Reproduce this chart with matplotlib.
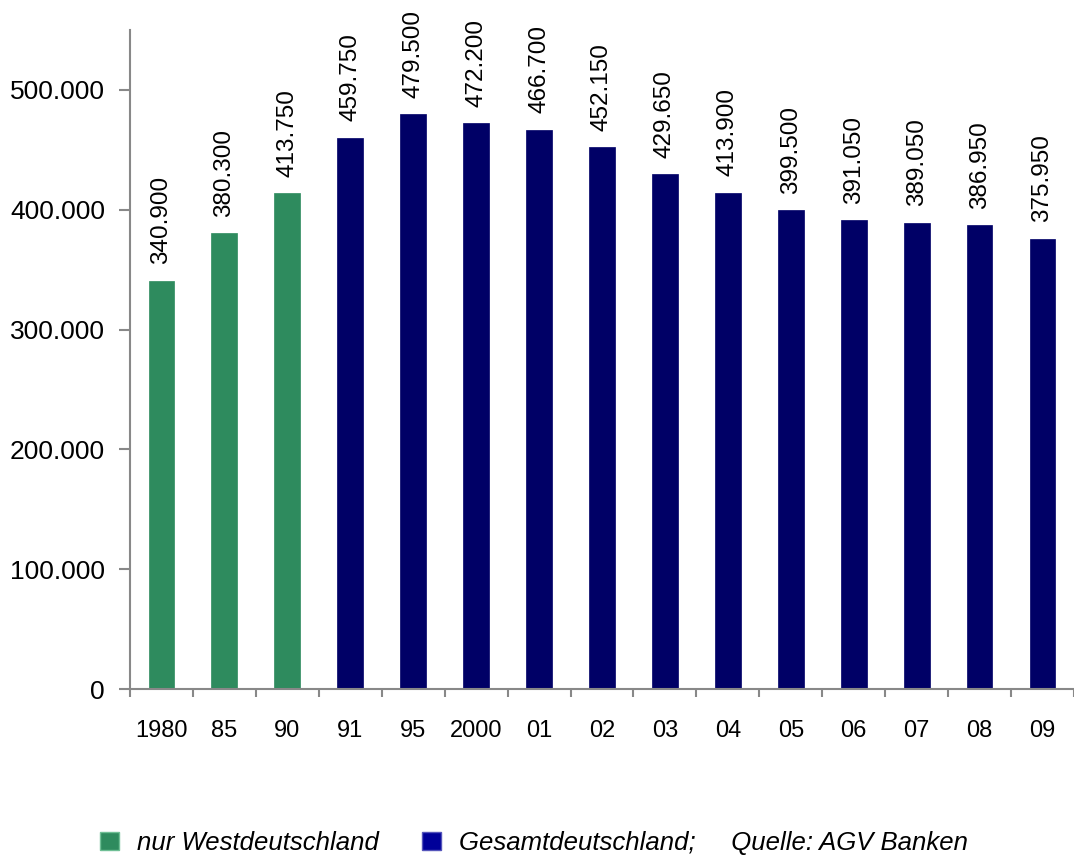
import numpy as np
import matplotlib.pyplot as plt
from matplotlib.patches import Patch

plt.rcParams['font.family'] = ['Liberation Sans', 'DejaVu Sans']

years = ['1980', '85', '90', '91', '95', '2000', '01', '02', '03', '04', '05', '06', '07', '08', '09']
values = [340900, 380300, 413750, 459750, 479500, 472200, 466700, 452150,
          429650, 413900, 399500, 391050, 389050, 386950, 375950]
n_west = 3

green = '#2E8B5E'
navy = '#000066'
colors = [green if i < n_west else navy for i in range(len(years))]


def de_fmt(v):
    return f"{v:,.0f}".replace(',', '.')


fig = plt.figure(figsize=(10.74, 8.57), dpi=100)
ax = fig.add_axes([0.121, 0.196, 0.879, 0.769])

x = np.arange(len(years))
bars = ax.bar(x, values, width=0.41, color=colors, edgecolor=colors, linewidth=0.5)

for xi, v in zip(x, values):
    ax.annotate(de_fmt(v), (xi, v), xytext=(0, 12), textcoords='offset points',
                rotation=90, ha='center', va='bottom', fontsize=17.5)

ax.set_xlim(-0.5, len(years) - 0.5)
ax.set_ylim(0, 550000)
ax.set_yticks(np.arange(0, 500001, 100000))
ax.set_yticklabels([de_fmt(t) for t in np.arange(0, 500001, 100000)], fontsize=19)

ax.set_xticks(x)
ax.set_xticklabels(years, fontsize=17)
ax.set_xticks(np.arange(-0.5, len(years), 1.0), minor=True)
ax.tick_params(axis='x', which='major', length=0, pad=22)
ax.tick_params(axis='x', which='minor', length=6, color='#888888', width=1.5)
ax.tick_params(axis='y', length=8, color='#888888', width=1.5, pad=10)

for s in ['top', 'right']:
    ax.spines[s].set_visible(False)
for s in ['left', 'bottom']:
    ax.spines[s].set_color('#888888')
    ax.spines[s].set_linewidth(1.5)

handles = [Patch(facecolor=green, edgecolor='#6fbf95'),
           Patch(facecolor='#000099', edgecolor='#5555bb')]
labels = ['nur Westdeutschland', 'Gesamtdeutschland;     Quelle: AGV Banken']
fig.legend(handles, labels, loc='center', bbox_to_anchor=(0.497, 0.016), ncol=2,
           frameon=False, prop={'style': 'italic', 'size': 18.5},
           handlelength=0.72, handleheight=0.72, handletextpad=0.7, columnspacing=1.7)

fig.savefig('out.png', dpi=100)
